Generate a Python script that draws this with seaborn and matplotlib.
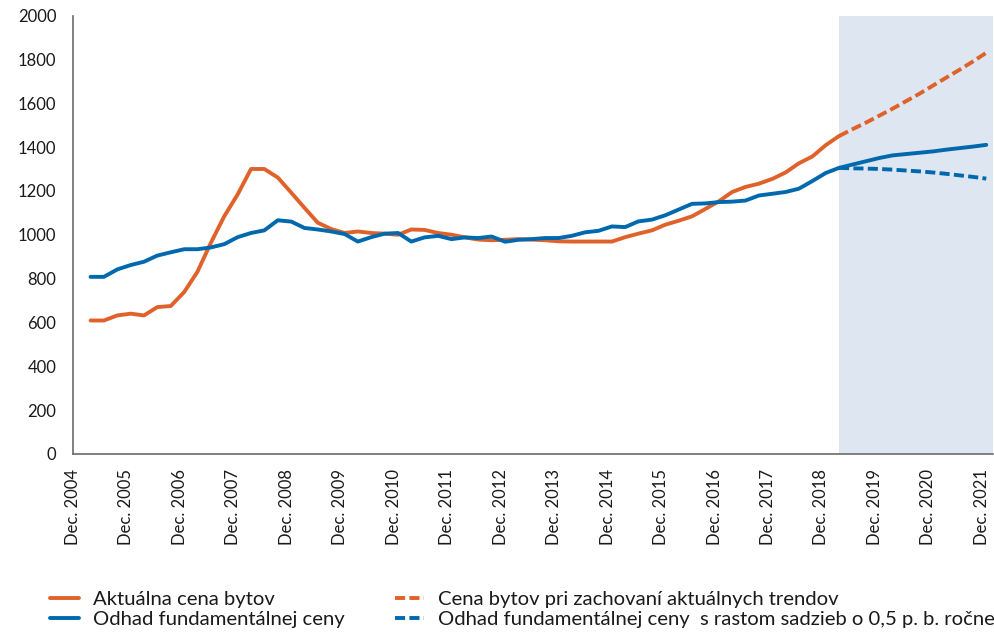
import pandas as pd
import seaborn as sns
import matplotlib.pyplot as plt

# Quarterly data, Mar 2005 - Dec 2021
dates = pd.date_range('2005-03-31', '2021-12-31', freq='QE')

# Aktualna cena bytov (Mar 2005 - Mar 2019)
actual = [609, 609, 632, 640, 632, 670, 675, 739, 831, 962, 1084, 1184,
          1300, 1300, 1261, 1192, 1123, 1055, 1026, 1008, 1015, 1008, 1005, 1000,
          1024, 1022, 1008, 1000, 988, 978, 975, 977, 980, 978, 975, 970,
          969, 969, 969, 969, 989, 1005, 1020, 1046, 1064, 1084, 1118, 1153,
          1195, 1218, 1233, 1255, 1284, 1326, 1357, 1409, 1450]

# Odhad fundamentalnej ceny (Mar 2005 - Dec 2021)
fundamental = [808, 808, 842, 862, 877, 905, 920, 934, 934, 942, 957, 989,
               1008, 1020, 1066, 1060, 1031, 1024, 1015, 1003, 969, 989, 1005, 1008,
               969, 988, 995, 980, 988, 985, 992, 968, 977, 980, 985, 985,
               995, 1011, 1018, 1038, 1035, 1061, 1069, 1089, 1115, 1141, 1143, 1149,
               1151, 1156, 1179, 1187, 1195, 1210, 1245, 1282, 1305, 1320, 1335, 1350,
               1362, 1368, 1374, 1380, 1388, 1395, 1402, 1410]

# Scenarios (Mar 2019 - Dec 2021)
trend = [1450, 1481, 1511, 1543, 1575, 1609, 1643, 1680, 1716, 1752, 1790, 1830]
rates_up = [1305, 1303, 1302, 1300, 1297, 1293, 1289, 1284, 1278, 1271, 1264, 1256]

labels = ['Aktuálna cena bytov', 'Odhad fundamentálnej ceny',
          'Cena bytov pri zachovaní aktuálnych trendov',
          'Odhad fundamentálnej ceny  s rastom sadzieb o 0,5 p. b. ročne']

orange = '#e0622b'
blue = '#0069ae'
shade = '#dee6f1'

sns.set_style('white')
plt.rcParams['font.family'] = ['Lato', 'DejaVu Sans']

fig = plt.figure(figsize=(9.95, 6.34), dpi=100)
ax = fig.add_axes([73 / 995, 180 / 634, 920 / 995, 438.5 / 634])

n_act = len(actual)
fc_dates = dates[n_act - 1:]
x_right = pd.Timestamp('2022-02-15')
ax.axvspan(fc_dates[0], x_right, color=shade, lw=0, zorder=0)

lw = 2.8
sns.lineplot(x=dates[:n_act], y=actual, ax=ax, color=orange, lw=lw, label=labels[0])
sns.lineplot(x=dates, y=fundamental, ax=ax, color=blue, lw=lw, label=labels[1])
sns.lineplot(x=fc_dates, y=trend, ax=ax, color=orange, lw=lw, label=labels[2])
sns.lineplot(x=fc_dates, y=rates_up, ax=ax, color=blue, lw=lw, label=labels[3])
for line in ax.get_lines()[2:4]:
    line.set_dashes((2.6, 1.1))

ax.set_ylim(0, 2000)
ax.set_yticks(range(0, 2001, 200))
ax.set_xlim(pd.Timestamp('2004-12-01'), x_right)
ticks = [pd.Timestamp(f'{y}-12-01') for y in range(2004, 2022)]
ax.set_xticks(ticks)
ax.set_xticklabels([f'Dec. {y}' for y in range(2004, 2022)], rotation=90)
ax.set_xlabel('')
ax.set_ylabel('')

for side in ['top', 'right']:
    ax.spines[side].set_visible(False)
for side in ['left', 'bottom']:
    ax.spines[side].set_color('#6b6b6b')
    ax.spines[side].set_linewidth(1.2)
ax.tick_params(axis='both', length=7, width=1.1, color='#6b6b6b',
               labelsize=12, labelcolor='#1a1a1a', direction='out')
ax.tick_params(axis='y', pad=5)
ax.tick_params(axis='x', pad=4)

handles, labs = ax.get_legend_handles_labels()
ax.get_legend().remove()
leg = fig.legend(handles, labs, loc='upper left', bbox_to_anchor=(50 / 995, 1 - 591 / 634),
                 ncol=2, frameon=False, fontsize=14.6, handlelength=1.45,
                 handletextpad=0.65, columnspacing=2.5, labelspacing=0.15,
                 borderaxespad=0, borderpad=0)
for t in leg.get_texts():
    t.set_color('#1a1a1a')

fig.savefig('out.png', dpi=100)
